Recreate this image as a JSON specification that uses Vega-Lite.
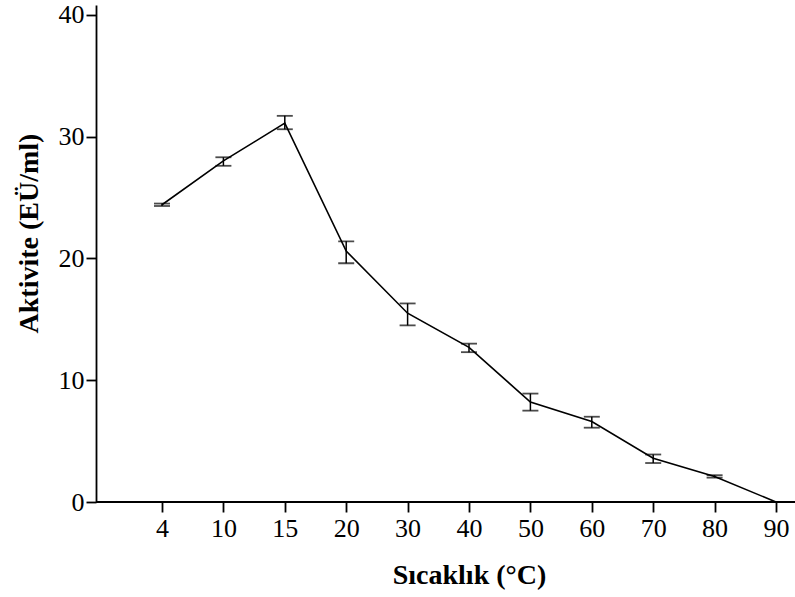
{
  "$schema": "https://vega.github.io/schema/vega-lite/v6.json",
  "autosize": {"type": "none"},
  "padding": {"left": 96, "top": 5, "right": 0, "bottom": 95},
  "width": 699,
  "height": 497,
  "background": "white",
  "config": {
    "view": {"stroke": null},
    "font": "Liberation Serif",
    "axis": {
      "labelFont": "Liberation Serif",
      "titleFont": "Liberation Serif",
      "labelColor": "black",
      "titleColor": "black",
      "domainColor": "black",
      "tickColor": "black",
      "domainWidth": 1.8,
      "tickWidth": 1.8,
      "grid": false,
      "labelFontSize": 26,
      "titleFontSize": 28,
      "titleFontWeight": "bold"
    }
  },
  "data": {
    "values": [
      {"sicaklik": "4", "aktivite": 24.4, "lo": 24.3, "hi": 24.5},
      {"sicaklik": "10", "aktivite": 28.0, "lo": 27.6, "hi": 28.3},
      {"sicaklik": "15", "aktivite": 31.1, "lo": 30.6, "hi": 31.7},
      {"sicaklik": "20", "aktivite": 20.6, "lo": 19.6, "hi": 21.4},
      {"sicaklik": "30", "aktivite": 15.5, "lo": 14.5, "hi": 16.3},
      {"sicaklik": "40", "aktivite": 12.7, "lo": 12.3, "hi": 13.0},
      {"sicaklik": "50", "aktivite": 8.2, "lo": 7.5, "hi": 8.9},
      {"sicaklik": "60", "aktivite": 6.6, "lo": 6.1, "hi": 7.0},
      {"sicaklik": "70", "aktivite": 3.6, "lo": 3.2, "hi": 3.9},
      {"sicaklik": "80", "aktivite": 2.1, "lo": 2.0, "hi": 2.2},
      {"sicaklik": "90", "aktivite": 0.0, "lo": 0.0, "hi": 0.0}
    ]
  },
  "layer": [
    {
      "mark": {"type": "rule", "color": "black", "strokeWidth": 1.8},
      "encoding": {"y": {"datum": 0, "type": "quantitative"}}
    },
    {
      "mark": {"type": "line", "color": "black", "strokeWidth": 1.6},
      "encoding": {
        "x": {
          "field": "sicaklik",
          "type": "ordinal",
          "scale": {"type": "point", "domain": ["4","10","15","20","30","40","50","60","70","80","90"], "range": [66, 680], "padding": 0},
          "axis": {"title": "Sıcaklık (°C)", "labelAngle": 0, "domain": false, "tickSize": 10, "labelPadding": 3, "titleX": 373, "titleY": 81, "titleAnchor": null, "titleAlign": "center", "titleBaseline": "alphabetic"}
        },
        "y": {
          "field": "aktivite",
          "type": "quantitative",
          "scale": {"domain": [0, 40.8], "nice": false},
          "axis": {"title": "Aktivite (EÜ/ml)", "values": [0, 10, 20, 30, 40], "tickSize": 10, "labelPadding": 2, "titleX": -59, "titleY": 228, "titleAngle": -90, "titleAlign": "center", "titleBaseline": "alphabetic"}
        }
      }
    },
    {
      "mark": {"type": "rule", "color": "black", "strokeWidth": 1.5},
      "encoding": {"x": {"field": "sicaklik", "type": "ordinal"}, "y": {"field": "lo", "type": "quantitative"}, "y2": {"field": "hi"}}
    },
    {
      "mark": {"type": "tick", "color": "black", "thickness": 1.8, "size": 16, "orient": "horizontal"},
      "encoding": {"x": {"field": "sicaklik", "type": "ordinal"}, "y": {"field": "lo", "type": "quantitative"}}
    },
    {
      "mark": {"type": "tick", "color": "black", "thickness": 1.8, "size": 16, "orient": "horizontal"},
      "encoding": {"x": {"field": "sicaklik", "type": "ordinal"}, "y": {"field": "hi", "type": "quantitative"}}
    }
  ]
}
